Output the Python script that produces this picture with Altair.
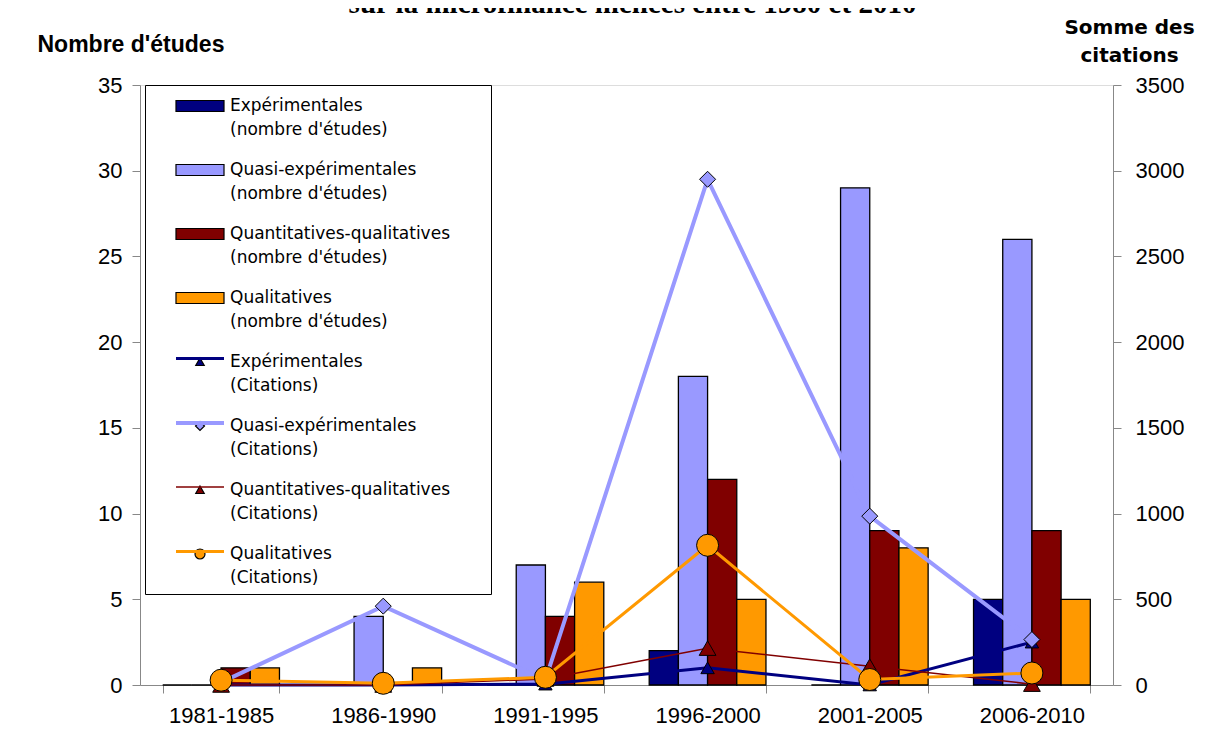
import altair as alt
import pandas as pd

# ---------------- data ----------------
periodes = ["1981-1985", "1986-1990", "1991-1995", "1996-2000", "2001-2005", "2006-2010"]

# number of studies (left axis)
exp_etudes = [0, 0, 0, 2, 0, 5]
quasi_etudes = [0, 4, 7, 18, 29, 26]
qq_etudes = [1, 0, 4, 12, 9, 9]
qual_etudes = [1, 1, 6, 5, 8, 5]

# sum of citations (right axis)
exp_cit = [0, 0, 5, 100, 0, 250]
quasi_cit = [15, 460, 30, 2950, 985, 265]
qq_cit = [0, 0, 35, 215, 110, 5]
qual_cit = [28, 10, 45, 815, 32, 70]

bar_names = [
    "Expérimentales|(nombre d'études)",
    "Quasi-expérimentales|(nombre d'études)",
    "Quantitatives-qualitatives|(nombre d'études)",
    "Qualitatives|(nombre d'études)",
]
line_names = [
    "Expérimentales|(Citations)",
    "Quasi-expérimentales|(Citations)",
    "Quantitatives-qualitatives|(Citations)",
    "Qualitatives|(Citations)",
]
colors = ["#000080", "#9999FF", "#800000", "#FF9900"]
line_widths = [3, 4, 1.5, 3]
marker_shapes = ["triangle-up", "diamond", "triangle-up", "circle"]
marker_sizes = [180, 256, 280, 484]

all_names = bar_names + line_names
all_colors = colors + colors

# ---------------- tables ----------------
bar_rows = []
for name, vals in zip(bar_names, [exp_etudes, quasi_etudes, qq_etudes, qual_etudes]):
    for p, v in zip(periodes, vals):
        bar_rows.append({"periode": p, "serie": name, "value": v})
bar_df = pd.DataFrame(bar_rows)

line_rows = []
for name, vals in zip(line_names, [exp_cit, quasi_cit, qq_cit, qual_cit]):
    for p, v in zip(periodes, vals):
        line_rows.append({"periode": p, "serie": name, "serie_l": name + " ", "citations": v})
line_df = pd.DataFrame(line_rows)

# ---------------- legend styling ----------------
leg_paths = (
    ["M-2.667,-0.611H2.667V0.611H-2.667Z"] * 4
    + [
        "M0,-0.44L0.47,0.39L-0.47,0.39Z",
        "M0,-0.5L0.5,0L0,0.5L-0.5,0Z",
        "M0,-0.44L0.47,0.39L-0.47,0.39Z",
        "M-0.556,0A0.556,0.556 0 1 0 0.556,0A0.556,0.556 0 1 0 -0.556,0Z",
    ]
)
l_domain = [n + " " for n in all_names]
l_colors = ["transparent"] * 4 + colors
l_widths = [0, 0, 0, 0] + line_widths

common_leg = dict(
    title=None,
    orient="none",
    legendX=5,
    legendY=0,
    direction="vertical",
    padding=11,
    rowPadding=22,
    symbolSize=324,
    labelFont="DejaVu Sans",
    labelFontSize=17,
    labelLimit=600,
)
leg_lines = alt.Legend(
    **common_leg,
    symbolType="M-2.667,0H2.667",
    symbolOffset=33,
    labelOffset=269,
    symbolFillColor="transparent",
    labelColor="black",
    strokeColor="black",
    labelExpr="['', '']",
)
leg_main = alt.Legend(
    **common_leg,
    symbolOffset=34,
    labelOffset=20,
    labelColor="black",
    symbolStrokeWidth=1.2,
    symbolOpacity=1,
    labelExpr="split(datum.label, '|')",
)

fill_scale = alt.Scale(domain=all_names, range=all_colors)

x_enc = alt.X(
    "periode:N",
    sort=periodes,
    scale=alt.Scale(domain=periodes, paddingInner=0.28, paddingOuter=0.14),
    axis=alt.Axis(
        title=None,
        labelAngle=0,
        tickBand="extent",
        tickSize=8,
        labelPadding=12,
        labelFont="Liberation Sans",
        labelFontSize=22,
    ),
)

bars = alt.Chart(bar_df).mark_bar(stroke="black", strokeWidth=1.3).encode(
    x=x_enc,
    xOffset=alt.XOffset("serie:N", sort=bar_names,
                        scale=alt.Scale(domain=bar_names, paddingInner=0, paddingOuter=0)),
    y=alt.Y(
        "value:Q",
        scale=alt.Scale(domain=[0, 35], nice=False),
        axis=alt.Axis(
            values=[0, 5, 10, 15, 20, 25, 30, 35],
            grid=False,
            tickSize=8,
            labelPadding=10,
            labelFont="Liberation Sans",
            labelFontSize=22,
            title="Nombre d'études",
            titleAngle=0,
            titleAlign="left",
            titleBaseline="alphabetic",
            titleX=-103,
            titleY=-34,
            titleFont="Liberation Sans",
            titleFontSize=23,
            titleFontWeight="bold",
        ),
    ),
    fill=alt.Fill("serie:N", scale=fill_scale, legend=leg_main),
)

right_axis = alt.Axis(
    orient="right",
    values=[0, 500, 1000, 1500, 2000, 2500, 3000, 3500],
    format="d",
    grid=False,
    tickSize=8,
    labelPadding=14,
    labelFont="Liberation Sans",
    labelFontSize=22,
    title=["Somme des", "citations"],
    titleAngle=0,
    titleAlign="center",
    titleBaseline="alphabetic",
    titleX=16,
    titleY=-52,
    titleLineHeight=28,
    titleFont="DejaVu Sans",
    titleFontSize=20,
    titleFontWeight="bold",
)
cit_scale = alt.Scale(domain=[0, 3500], nice=False)

lines = alt.Chart(line_df).mark_line().encode(
    x=alt.X("periode:N", sort=periodes),
    y=alt.Y("citations:Q", scale=cit_scale, axis=right_axis),
    stroke=alt.Stroke("serie_l:N", scale=alt.Scale(domain=l_domain, range=l_colors), legend=leg_lines),
    strokeWidth=alt.StrokeWidth("serie_l:N",
                                scale=alt.Scale(type="ordinal", domain=l_domain, range=l_widths),
                                legend=leg_lines),
)

point_layers = []
for name, col, shp, sz in zip(line_names, colors, marker_shapes, marker_sizes):
    point_layers.append(
        alt.Chart(line_df)
        .transform_filter(alt.datum.serie == name)
        .mark_point(shape=shp, size=sz, filled=True, fill=col, stroke="black",
                    strokeWidth=1, opacity=1)
        .encode(x=alt.X("periode:N", sort=periodes),
                y=alt.Y("citations:Q", scale=cit_scale, axis=right_axis))
    )

citations = alt.layer(lines, *point_layers)

legend_dummy = (
    alt.Chart(bar_df)
    .transform_filter("false")
    .mark_point(filled=True, opacity=1, stroke="black", strokeWidth=1.2)
    .encode(
        fill=alt.Fill("serie:N", scale=fill_scale, legend=leg_main),
        shape=alt.Shape("serie:N", scale=alt.Scale(domain=all_names, range=leg_paths), legend=leg_main),
    )
)

chart = (
    alt.layer(bars, citations, legend_dummy)
    .resolve_scale(y="independent")
    .properties(
        width=973,
        height=600,
        padding={"left": 132, "top": 77, "right": 87, "bottom": 43},
        autosize=alt.AutoSizeParams(type="none"),
        title=alt.TitleParams(
            "sur la microfinance menées entre 1980 et 2010",
            font="Liberation Serif",
            fontSize=29,
            fontWeight="bold",
            color="black",
            anchor="middle",
            frame="group",
            baseline="alphabetic",
            offset=0,
            dx=6,
            dy=25,
        ),
    )
    .configure_view(stroke="#888888", strokeWidth=1)
    .configure_axis(
        domainColor="black",
        domainWidth=1.5,
        tickColor="black",
        tickWidth=1.5,
        labelColor="black",
        titleColor="black",
    )
    .configure(style={"guide-label": {"lineHeight": 23.5}})
)

chart.save("out.html", embed_options={"renderer": "svg", "actions": False})
